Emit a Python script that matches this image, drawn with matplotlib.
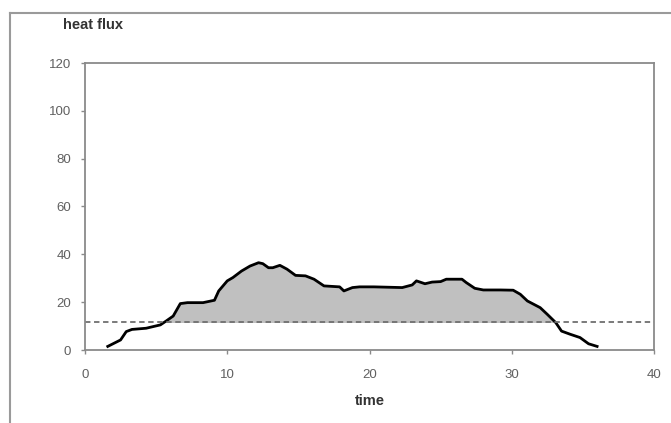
import matplotlib
matplotlib.use("Agg")
import matplotlib.pyplot as plt
import numpy as np
from matplotlib.lines import Line2D

plt.rcParams['font.family'] = ['Liberation Sans', 'DejaVu Sans']

# heat flux curve
time = [1.6, 2.5, 2.9, 3.3, 4.3, 4.8, 5.3, 5.7, 6.2, 6.7, 7.2, 8.3, 9.1, 9.4,
        10.0, 10.4, 11.0, 11.6, 12.2, 12.5, 12.9, 13.2, 13.7, 14.2, 14.8, 15.5,
        16.1, 16.8, 17.9, 18.2, 18.8, 19.3, 20.3, 22.3, 23.0, 23.3, 23.9, 24.4,
        25.0, 25.4, 26.5, 26.8, 27.4, 28.0, 29.2, 30.1, 30.6, 31.1, 32.0, 32.5,
        33.1, 33.5, 34.1, 34.8, 35.4, 36.0]
flux = [1.5, 4.2, 7.7, 8.6, 9.1, 9.8, 10.5, 12.1, 14.2, 19.4, 19.8, 19.8, 20.8,
        24.7, 28.9, 30.3, 33.0, 35.1, 36.5, 36.1, 34.4, 34.4, 35.4, 33.8, 31.2,
        31.0, 29.6, 26.8, 26.4, 24.7, 26.1, 26.4, 26.4, 26.1, 27.2, 28.9, 27.7,
        28.4, 28.6, 29.6, 29.6, 28.2, 25.8, 25.1, 25.1, 25.0, 23.3, 20.5, 17.7,
        14.9, 11.4, 7.9, 6.6, 5.2, 2.6, 1.5]
threshold = 11.5

x_ticks = [0, 10, 20, 30, 40]
y_ticks = [0, 20, 40, 60, 80, 100, 120]

W, H = 671, 423
fig = plt.figure(figsize=(W / 100, H / 100), dpi=100)
ax = fig.add_axes([85 / W, 1 - 350 / H, (654 - 85) / W, (350 - 63) / H])

t = np.array(time)
f = np.array(flux)
ax.fill_between(t, f, threshold, where=f > threshold, interpolate=True,
                color='#c0c0c0', linewidth=0)
ax.plot(t, f, color='black', linewidth=2.0, solid_joinstyle='round')
ax.axhline(threshold, color='#707070', linewidth=1.3, linestyle=(0, (3, 2)))

ax.set_xlim(0, 40)
ax.set_ylim(0, 120)
ax.set_xticks(x_ticks)
ax.set_yticks(y_ticks)
for s in ax.spines.values():
    s.set_color('#8a8a8a')
    s.set_linewidth(1.3)
ax.tick_params(colors='#8a8a8a', labelcolor='#606060', labelsize=9.5,
               length=3, width=1)
ax.tick_params(axis='x', pad=11)
ax.tick_params(axis='y', pad=7)

fig.text(93 / W, 1 - 25 / H, 'heat flux', fontsize=10.5, fontweight='bold',
         color='#333333', va='center', ha='center')
fig.text(370 / W, 1 - 401 / H, 'time', fontsize=10.5, fontweight='bold',
         color='#333333', va='center', ha='center')

# outer chart border (left and top visible)
fig.add_artist(Line2D([10 / W, 10 / W], [0, 1 - 13 / H], color='#9a9a9a', linewidth=1.5))
fig.add_artist(Line2D([10 / W, 1], [1 - 13 / H, 1 - 13 / H], color='#9a9a9a', linewidth=1.5))

fig.savefig('out.png', dpi=100)
